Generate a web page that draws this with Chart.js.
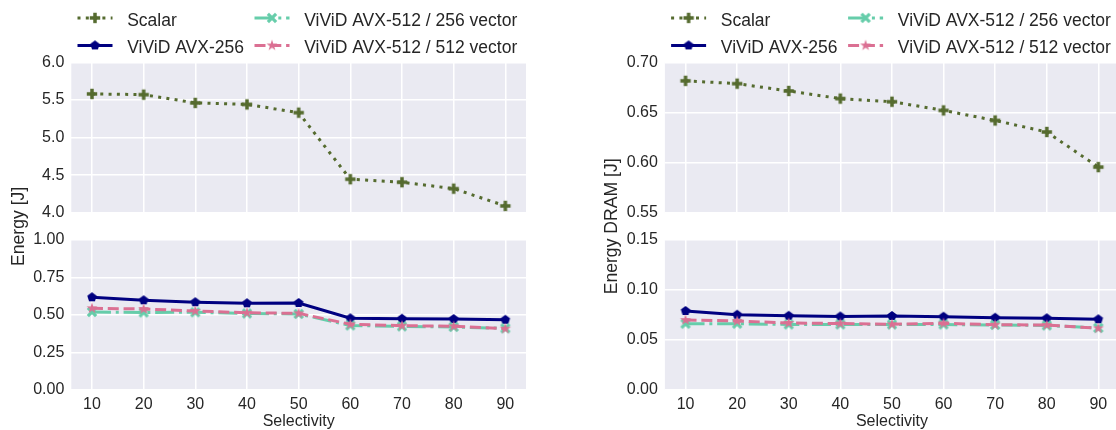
<!DOCTYPE html>
<html><head><meta charset="utf-8">
<script src="https://cdn.jsdelivr.net/npm/chart.js@4"></script>
<style>
html,body{margin:0;padding:0;background:#fff;overflow:hidden;width:1116px;height:430px;}
#c1{position:absolute;left:0;top:0;}
#c2{position:absolute;left:556px;top:0;}
</style></head><body>
<canvas id="c1" width="556" height="430"></canvas>
<canvas id="c2" width="600" height="430"></canvas>
<script>
// ---------- data ----------
const selectivity = [10, 20, 30, 40, 50, 60, 70, 80, 90];
const seriesNames = ['Scalar', 'ViViD AVX-256', 'ViViD AVX-512 / 256 vector', 'ViViD AVX-512 / 512 vector'];
// Energy [J]
const energyScalar     = [5.58, 5.57, 5.46, 5.44, 5.33, 4.445, 4.405, 4.32, 4.09];
const energyAvx256     = [0.618, 0.598, 0.585, 0.578, 0.580, 0.478, 0.475, 0.473, 0.468];
const energyAvx512v256 = [0.520, 0.517, 0.518, 0.510, 0.507, 0.430, 0.424, 0.420, 0.411];
const energyAvx512v512 = [0.545, 0.540, 0.527, 0.515, 0.511, 0.438, 0.429, 0.425, 0.409];
// Energy DRAM [J]
const dramScalar     = [0.6815, 0.6787, 0.6714, 0.6638, 0.6607, 0.652, 0.642, 0.6305, 0.5955];
const dramAvx256     = [0.0790, 0.0753, 0.0742, 0.0735, 0.0740, 0.0733, 0.0723, 0.0717, 0.0707];
const dramAvx512v256 = [0.0663, 0.0663, 0.0655, 0.0655, 0.0655, 0.0655, 0.0650, 0.0645, 0.0620];
const dramAvx512v512 = [0.0700, 0.0690, 0.0670, 0.0665, 0.0657, 0.0667, 0.0653, 0.0650, 0.0617];
// ticks
const xTicks = [10, 20, 30, 40, 50, 60, 70, 80, 90];
const energyTopTicks = [4.0, 4.5, 5.0, 5.5, 6.0];
const energyBottomTicks = [0.00, 0.25, 0.50, 0.75, 1.00];
const dramTopTicks = [0.55, 0.60, 0.65, 0.70];
const dramBottomTicks = [0.00, 0.05, 0.10, 0.15];

// ---------- styles ----------
const FONT = '"Liberation Sans", Arial, sans-serif';
const TEXT = '#262626';
Chart.defaults.font.family = FONT;
Chart.defaults.font.size = 16;
Chart.defaults.color = TEXT;

const colors = ['#556B2F', '#000080', '#66CDAA', '#DB7093'];
const dashes = [[3, 5.3], [], [19, 4.8, 3, 4.8], [11, 4.8]];

function makeMarker(color, kind) {
  const s = 16, c = document.createElement('canvas');
  c.width = s; c.height = s;
  const g = c.getContext('2d');
  g.translate(s / 2, s / 2);
  g.fillStyle = color;
  if (kind === 'plus' || kind === 'x') {
    if (kind === 'x') g.rotate(Math.PI / 4);
    const L = kind === 'x' ? 11.6 : 10.4, t = kind === 'x' ? 3.2 : 3.5;
    g.fillRect(-L / 2, -t / 2, L, t);
    g.fillRect(-t / 2, -L / 2, t, L);
  } else if (kind === 'pentagon') {
    const R = 5.0;
    g.beginPath();
    for (let k = 0; k < 5; k++) {
      const a = -Math.PI / 2 + k * 2 * Math.PI / 5;
      g.lineTo(R * Math.cos(a), R * Math.sin(a));
    }
    g.closePath(); g.fill();
  } else if (kind === 'star') {
    const R = 5.8, r = R * 0.382;
    g.beginPath();
    for (let k = 0; k < 10; k++) {
      const a = -Math.PI / 2 + k * Math.PI / 5;
      const rr = k % 2 === 0 ? R : r;
      g.lineTo(rr * Math.cos(a), rr * Math.sin(a));
    }
    g.closePath(); g.fill();
  }
  return c;
}
const markers = [
  makeMarker(colors[0], 'plus'),
  makeMarker(colors[1], 'pentagon'),
  makeMarker(colors[2], 'x'),
  makeMarker(colors[3], 'star')
];

function makeDatasets(values) {
  return values.map((vals, i) => ({
    label: seriesNames[i],
    data: vals,
    yAxisID: i === 0 ? 'yTop' : 'yBot',
    borderColor: colors[i],
    backgroundColor: colors[i],
    borderWidth: 3,
    borderDash: dashes[i],
    pointStyle: markers[i],
    pointRadius: 5,
    tension: 0,
    fill: false,
    order: 4 - i
  }));
}

const bgPlugin = {
  id: 'bgPlugin',
  beforeDraw(chart) {
    const {ctx, chartArea} = chart;
    ctx.save();
    ctx.fillStyle = '#EAEAF2';
    ['yTop', 'yBot'].forEach(id => {
      const s = chart.scales[id];
      ctx.fillRect(chartArea.left, s.top, chartArea.right - chartArea.left, s.bottom - s.top);
    });
    ctx.restore();
  }
};

const legendPlugin = {
  id: 'mplLegend',
  afterDraw(chart) {
    const ctx = chart.ctx;
    const L = chart.chartArea.left;
    const lineY = [17.9, 45.4], textY = [25.7, 52.5];
    chart.data.datasets.forEach((d, i) => {
      const col = Math.floor(i / 2), row = i % 2;
      const x0 = L + 6.2 + col * 177, x1 = x0 + 35;
      ctx.save();
      ctx.strokeStyle = d.borderColor;
      ctx.lineWidth = d.borderWidth;
      ctx.setLineDash(d.borderDash);
      ctx.beginPath();
      ctx.moveTo(x0, lineY[row]);
      ctx.lineTo(x1, lineY[row]);
      ctx.stroke();
      ctx.setLineDash([]);
      const img = d.pointStyle;
      ctx.drawImage(img, (x0 + x1) / 2 - img.width / 2, lineY[row] - img.height / 2);
      ctx.fillStyle = TEXT;
      ctx.font = '17.5px ' + FONT;
      ctx.textBaseline = 'alphabetic';
      ctx.textAlign = 'left';
      ctx.fillText(d.label, x0 + 49.7, textY[row]);
      ctx.restore();
    });
  }
};

function setTicks(arr) {
  return (scale) => { scale.ticks = arr.map(v => ({value: v})); };
}

function makeChart(canvasId, values, topRange, topTicks, topDigits, botRange, botTicks, botDigits, yTitle, pad, W) {
  const grid = {color: '#ffffff', lineWidth: 1.5, drawTicks: false};
  const fixW = (s) => { s.width = W; };
  return new Chart(document.getElementById(canvasId), {
    type: 'line',
    data: {datasets: makeDatasets(values).map(d => ({...d, data: d.data.map((y, k) => ({x: selectivity[k], y}))}))},
    options: {
      responsive: false,
      animation: false,
      devicePixelRatio: 1,
      events: [],
      layout: {padding: pad},
      plugins: {legend: {display: false}, tooltip: {enabled: false}},
      scales: {
        x: {
          type: 'linear', position: 'bottom', min: 6, max: 94,
          afterBuildTicks: setTicks(xTicks),
          ticks: {padding: 5, maxRotation: 0, autoSkip: false, callback: v => String(v)},
          grid: grid,
          border: {display: false},
          title: {display: true, text: 'Selectivity', font: {size: 16, lineHeight: 1}, padding: 0},
          afterFit: (s) => { s.height = 40; }
        },
        yBot: {
          type: 'linear', position: 'left', stack: 'panel', stackWeight: 150, weight: 1,
          min: botRange[0], max: botRange[1],
          afterBuildTicks: setTicks(botTicks),
          ticks: {padding: 7, autoSkip: false, callback: v => v.toFixed(botDigits)},
          grid: grid, border: {display: false},
          afterFit: fixW
        },
        ySpacer: {
          type: 'linear', position: 'left', stack: 'panel', stackWeight: 27.3, weight: 2,
          ticks: {display: false}, grid: {display: false}, border: {display: false},
          title: {display: true, text: yTitle, font: {size: 17.6}, padding: {top: 8.3, bottom: 0}},
          afterFit: fixW
        },
        yTop: {
          type: 'linear', position: 'left', stack: 'panel', stackWeight: 150.4, weight: 3,
          min: topRange[0], max: topRange[1],
          afterBuildTicks: setTicks(topTicks),
          ticks: {padding: 7, autoSkip: false, callback: v => v.toFixed(topDigits)},
          grid: grid, border: {display: false},
          afterFit: fixW
        }
      }
    },
    plugins: [bgPlugin, legendPlugin]
  });
}

makeChart('c1', [energyScalar, energyAvx256, energyAvx512v256, energyAvx512v512],
  [4, 6], energyTopTicks, 1, [0, 1], energyBottomTicks, 2, 'Energy [J]',
  {left: 0, right: 30, top: 62.3, bottom: 0}, 71.3);
makeChart('c2', [dramScalar, dramAvx256, dramAvx512v256, dramAvx512v512],
  [0.55, 0.70], dramTopTicks, 2, [0, 0.15], dramBottomTicks, 2, 'Energy DRAM [J]',
  {left: 37.3, right: 37, top: 62.3, bottom: 0}, 71.6);
</script>
</body></html>
